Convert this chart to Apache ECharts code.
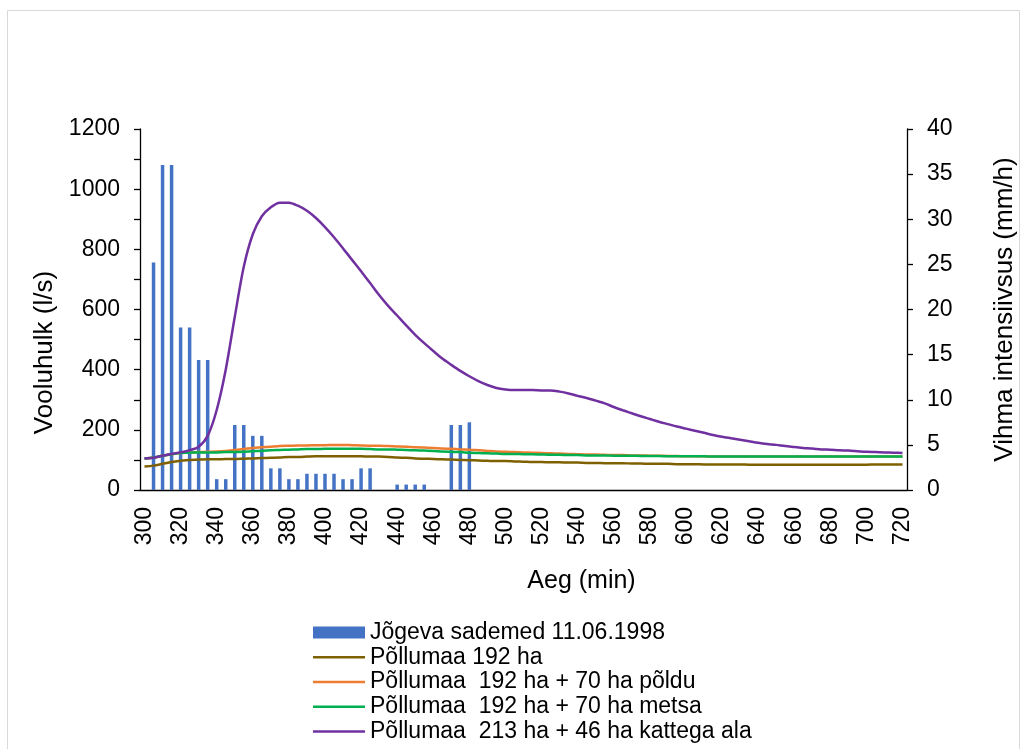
<!DOCTYPE html>
<html>
<head>
<meta charset="utf-8">
<script src="https://cdn.jsdelivr.net/npm/echarts@6/dist/echarts.min.js"></script>
<style>
  html, body { margin: 0; padding: 0; background: #fff; }
  #chart { width: 1022px; height: 749px; }
</style>
</head>
<body>
<div id="chart"></div>
<script>
// minutes 300..720, step 5
var minutes = [];
for (var m = 300; m <= 720; m += 5) minutes.push(String(m));

// rain intensity (mm/h), by minute
var rainMinutes = [305, 310, 315, 320, 325, 330, 335, 340, 345, 350, 355, 360, 365, 370, 375, 380, 385, 390, 395, 400, 405, 410, 415, 420, 425, 440, 445, 450, 455, 470, 475, 480];
var rainValues = [25.2, 36, 36, 18, 18, 14.4, 14.4, 1.2, 1.2, 7.2, 7.2, 6, 6, 2.4, 2.4, 1.2, 1.2, 1.8, 1.8, 1.8, 1.8, 1.2, 1.2, 2.4, 2.4, 0.6, 0.6, 0.6, 0.6, 7.2, 7.2, 7.5];

// flow (l/s)
var flow192 = [78, 81, 87, 93, 97, 100, 101, 102, 102, 103, 103, 104, 105, 106, 107, 108, 110, 110, 111, 112,
  112, 112, 112, 112, 112, 111, 111, 110, 108, 107, 105, 104, 103, 102, 101, 100, 99, 98, 97, 96,
  96, 95, 94, 93, 93, 92, 92, 91, 91, 90, 90, 89, 89, 89, 88, 88, 87, 87, 87, 86,
  86, 86, 85, 85, 85, 85, 85, 84, 84, 84, 84, 84, 84, 84, 84, 84, 84, 84, 84, 84,
  84, 85, 85, 85, 85];
var flowPold = [105, 108, 114, 119, 123, 125, 126, 127, 128, 130, 133, 136, 140, 142, 144, 146, 147, 148, 148, 149,
  149, 150, 150, 149, 148, 147, 147, 146, 145, 144, 142, 141, 140, 138, 137, 135, 134, 132, 130, 128,
  127, 126, 125, 124, 123, 122, 121, 120, 119, 118, 118, 117, 116, 116, 115, 115, 114, 114, 113, 113,
  112, 112, 112, 111, 111, 111, 111, 111, 111, 111, 111, 111, 111, 111, 111, 111, 111, 111, 111, 111,
  111, 111, 111, 111, 111];
var flowMets = [105, 108, 114, 119, 123, 124, 125, 125, 125, 126, 126, 127, 129, 130, 132, 133, 134, 135, 136, 136,
  137, 137, 137, 137, 137, 136, 135, 135, 134, 133, 132, 131, 130, 128, 127, 126, 124, 123, 122, 121,
  120, 120, 119, 119, 118, 117, 117, 116, 116, 115, 115, 115, 114, 114, 114, 113, 113, 113, 112, 112,
  112, 112, 112, 111, 111, 111, 111, 111, 111, 111, 111, 111, 111, 111, 111, 111, 111, 111, 111, 111,
  111, 111, 111, 111, 111];
var flowKate = [105, 107, 114, 120, 125, 132, 144, 180, 266, 400, 575, 742, 850, 910, 940, 955, 955, 945, 928, 904,
  874, 840, 803, 765, 727, 688, 648, 612, 580, 547, 516, 488, 462, 437, 416, 396, 378, 362, 349, 339,
  334, 332, 332, 332, 331, 331, 327, 321, 313, 306, 297, 288, 276, 265, 255, 245, 236, 227, 219, 211,
  204, 197, 190, 183, 177, 172, 167, 162, 157, 153, 150, 146, 143, 140, 138, 135, 134, 132, 131, 129,
  127, 126, 125, 124, 123];

var leftTicks = [0, 200, 400, 600, 800, 1000, 1200];

var seriesNames = ['Jõgeva sademed 11.06.1998', 'Põllumaa 192 ha', 'Põllumaa  192 ha + 70 ha põldu',
  'Põllumaa  192 ha + 70 ha metsa', 'Põllumaa  213 ha + 46 ha kattega ala'];

var rain = minutes.map(function (m) {
  var k = rainMinutes.indexOf(Number(m));
  return k < 0 ? null : rainValues[k];
});

var font = 'Liberation Sans, Arial, sans-serif';
// thin bar used as legend mark for the lines
var lineIcon = 'path://M0,0H52V2.5H0Z';

function lineSeries(name, data, color) {
  return {
    name: name,
    type: 'line',
    data: data,
    symbol: 'none',
    smooth: 0.3,
    lineStyle: { color: color, width: 2.5 },
    itemStyle: { color: color }
  };
}

var chart = echarts.init(document.getElementById('chart'));
var option = {
  animation: false,
  textStyle: { fontFamily: font, color: '#000' },
  graphic: [{
    type: 'rect',
    shape: { x: 7.5, y: 10.5, width: 1012, height: 760 },
    style: { fill: 'none', stroke: '#d9d9d9', lineWidth: 1 }
  }],
  grid: { left: 140, right: 115, top: 129, height: 361, outerBoundsMode: 'none' },
  legend: {
    orient: 'vertical',
    left: 313,
    top: 620,
    padding: 0,
    itemWidth: 52,
    itemHeight: 12,
    itemGap: 0,
    textStyle: { fontSize: 23, lineHeight: 24.8, color: '#000', fontFamily: font },
    data: [
      { name: seriesNames[0], icon: 'rect' },
      { name: seriesNames[1], icon: lineIcon },
      { name: seriesNames[2], icon: lineIcon },
      { name: seriesNames[3], icon: lineIcon },
      { name: seriesNames[4], icon: lineIcon }
    ]
  },
  xAxis: {
    type: 'category',
    data: minutes,
    boundaryGap: true,
    name: 'Aeg (min)',
    nameLocation: 'middle',
    nameGap: 79,
    nameTextStyle: { fontSize: 25, color: '#000', padding: [0, 0, 0, 116] },
    axisLine: { lineStyle: { color: '#000', width: 1.3 } },
    axisTick: { interval: 4, length: 6, lineStyle: { color: '#000', width: 1.3 } },
    axisLabel: { interval: 3, rotate: 90, fontSize: 23, margin: 17, color: '#000' },
    splitLine: { show: false }
  },
  yAxis: [
    {
      type: 'value',
      min: 0,
      max: 1200,
      interval: 100,
      name: 'Vooluhulk (l/s)',
      nameLocation: 'middle',
      nameRotate: 90,
      nameGap: 63,
      nameTextStyle: { fontSize: 26, color: '#000', padding: [0, 86, 0, 0] },
      axisLine: { show: true, lineStyle: { color: '#000', width: 1.3 } },
      axisTick: { show: true, length: 6, lineStyle: { color: '#000', width: 1.3 } },
      axisLabel: {
        fontSize: 23, margin: 20, color: '#000',
        formatter: function (v) { return leftTicks.indexOf(v) >= 0 ? String(v) : ''; }
      },
      splitLine: { show: false }
    },
    {
      type: 'value',
      min: 0,
      max: 40,
      interval: 5,
      position: 'right',
      name: 'Vihma intensiivsus (mm/h)',
      nameLocation: 'middle',
      nameRotate: 90,
      nameGap: 85,
      nameTextStyle: { fontSize: 26, color: '#000' },
      axisLine: { show: true, lineStyle: { color: '#000', width: 1.3 } },
      axisTick: { show: true, length: 6, lineStyle: { color: '#000', width: 1.3 } },
      axisLabel: { fontSize: 23, margin: 20, color: '#000' },
      splitLine: { show: false }
    }
  ],
  series: [
    {
      name: seriesNames[0],
      type: 'bar',
      yAxisIndex: 1,
      data: rain,
      barWidth: 3.5,
      itemStyle: { color: '#4472C4' }
    },
    lineSeries(seriesNames[1], flow192, '#7F6000'),
    lineSeries(seriesNames[2], flowPold, '#ED7D31'),
    lineSeries(seriesNames[3], flowMets, '#00B050'),
    lineSeries(seriesNames[4], flowKate, '#7030A0')
  ]
};
chart.setOption(option, true);
</script>
</body>
</html>
